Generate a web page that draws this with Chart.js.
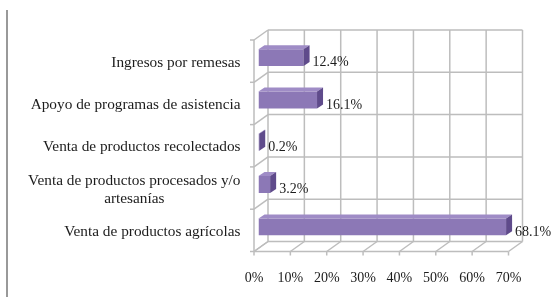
<!DOCTYPE html>
<html>
<head>
<meta charset="utf-8">
<script src="https://cdn.jsdelivr.net/npm/chart.js@4"></script>
<style>
  html, body { margin: 0; padding: 0; background: #fff; }
  #wrap { width: 553px; height: 299px; }
  .preload { font-family: "Liberation Serif"; position: absolute; left: -999px; }
</style>
</head>
<body>
<span class="preload">Venta 0%</span>
<div id="wrap"><canvas id="chart" width="553" height="299"></canvas></div>
<script>
// Data
const categories = [
  "Ingresos por remesas",
  "Apoyo de programas de asistencia",
  "Venta de productos recolectados",
  ["Venta de productos procesados y/o", "artesanías"],
  "Venta de productos agrícolas",
];
const values = [12.4, 16.1, 0.2, 3.2, 68.1];
const valueLabels = ["12.4%", "16.1%", "0.2%", "3.2%", "68.1%"];
const xMax = 70;
const xStep = 10;

// 3D look (Excel style): offsets of the front / back planes from the bar plane
const FRONT = { dx: -4.5, dy: 3.5 };
const BACK = { dx: 9.5, dy: -6.5 };
const DEPTH = { dx: 6, dy: -4 };
const SERIF = '"Liberation Serif", "Times New Roman", serif';
const TEXT = "#1c1c1c";

const frame3d = {
  id: "frame3d",
  beforeDatasetsDraw(chart) {
    const { ctx, chartArea } = chart;
    const { left, right, top, bottom } = chartArea;
    const xs = chart.scales.x;
    const n = categories.length;
    const band = (bottom - top) / n;
    ctx.save();
    ctx.strokeStyle = "#bdbdbd";
    ctx.lineWidth = 1.5;
    const line = (x1, y1, x2, y2) => {
      ctx.beginPath();
      ctx.moveTo(x1, y1);
      ctx.lineTo(x2, y2);
      ctx.stroke();
    };
    // back wall
    for (let v = 0; v <= xMax; v += xStep) {
      const x = xs.getPixelForValue(v);
      line(x + BACK.dx, top + BACK.dy, x + BACK.dx, bottom + BACK.dy);
    }
    for (let i = 0; i <= n; i++) {
      const y = top + i * band;
      line(left + BACK.dx, y + BACK.dy, right + BACK.dx, y + BACK.dy);
    }
    // floor
    line(left + FRONT.dx, bottom + FRONT.dy, right + FRONT.dx, bottom + FRONT.dy);
    for (let v = 0; v <= xMax; v += xStep) {
      const x = xs.getPixelForValue(v);
      line(x + FRONT.dx, bottom + FRONT.dy, x + BACK.dx, bottom + BACK.dy);
      line(x + FRONT.dx, bottom + FRONT.dy, x + FRONT.dx, bottom + FRONT.dy + 4);
    }
    // left wall
    line(left + FRONT.dx, top + FRONT.dy, left + FRONT.dx, bottom + FRONT.dy);
    for (let i = 0; i <= n; i++) {
      const y = top + i * band;
      line(left + FRONT.dx, y + FRONT.dy, left + BACK.dx, y + BACK.dy);
      line(left + FRONT.dx - 4, y + FRONT.dy, left + FRONT.dx, y + FRONT.dy);
    }
    ctx.restore();
  },
  afterDatasetsDraw(chart) {
    const { ctx } = chart;
    const meta = chart.getDatasetMeta(0);
    ctx.save();
    meta.data.forEach((bar, i) => {
      const h = bar.height;
      const yt = bar.y - h / 2;
      const yb = bar.y + h / 2;
      // top face
      ctx.fillStyle = "#9f8cc6";
      ctx.beginPath();
      ctx.moveTo(bar.base, yt);
      ctx.lineTo(bar.base + DEPTH.dx, yt + DEPTH.dy);
      ctx.lineTo(bar.x + DEPTH.dx, yt + DEPTH.dy);
      ctx.lineTo(bar.x, yt);
      ctx.closePath();
      ctx.fill();
      // side face
      ctx.fillStyle = "#5f4b8b";
      ctx.beginPath();
      ctx.moveTo(bar.x, yt);
      ctx.lineTo(bar.x + DEPTH.dx, yt + DEPTH.dy);
      ctx.lineTo(bar.x + DEPTH.dx, yb + DEPTH.dy);
      ctx.lineTo(bar.x, yb);
      ctx.closePath();
      ctx.fill();
      // value label
      ctx.fillStyle = TEXT;
      ctx.font = "14px " + SERIF;
      ctx.textAlign = "left";
      ctx.textBaseline = "middle";
      ctx.fillText(valueLabels[i], bar.x + DEPTH.dx + 3, bar.y + 5);
    });
    ctx.restore();
  },
  afterDraw(chart) {
    const { ctx, chartArea } = chart;
    const ys = chart.scales.y;
    ctx.save();
    // thin page rule at the left
    ctx.strokeStyle = "#777";
    ctx.lineWidth = 1.5;
    ctx.beginPath();
    ctx.moveTo(7, 10);
    ctx.lineTo(7, 297);
    ctx.stroke();
    // category labels: block right-aligned, lines centred within it
    ctx.fillStyle = TEXT;
    ctx.font = "15.3px " + SERIF;
    ctx.textBaseline = "middle";
    ctx.textAlign = "center";
    const rightEdge = chartArea.left - 18;
    const lineH = 18;
    categories.forEach((lab, i) => {
      const lines = Array.isArray(lab) ? lab : [lab];
      const w = Math.max(...lines.map((l) => ctx.measureText(l).width));
      const cx = rightEdge - w / 2;
      const cy = ys.getPixelForValue(i) + 5;
      lines.forEach((l, k) => {
        ctx.fillText(l, cx, cy + (k - (lines.length - 1) / 2) * lineH);
      });
    });
    ctx.restore();
  },
};

function drawChart() {
  new Chart(document.getElementById("chart"), {
    type: "bar",
    data: {
      labels: categories,
      datasets: [
        {
          data: values,
          backgroundColor: "#8c78b6",
          barPercentage: 0.4,
          categoryPercentage: 1,
        },
      ],
    },
    options: {
      indexAxis: "y",
      responsive: false,
      animation: false,
      layout: { padding: { left: 0, right: 40, top: 36.5, bottom: 0 } },
      plugins: { legend: { display: false }, tooltip: { enabled: false } },
      scales: {
        x: {
          min: 0,
          max: xMax,
          ticks: {
            stepSize: xStep,
            callback: (v) => v + "%",
            font: { family: SERIF, size: 14 },
            color: TEXT,
            padding: 22,
            labelOffset: FRONT.dx,
            maxRotation: 0,
          },
          grid: { display: false, drawTicks: false },
          border: { display: false },
          afterFit: (s) => { s.height = 51; },
        },
        y: {
          ticks: { display: false },
          grid: { display: false, drawTicks: false },
          border: { display: false },
          afterFit: (s) => { s.width = 258.5; },
        },
      },
    },
    plugins: [frame3d],
  });
}

Promise.all([
  document.fonts.load('15px "Liberation Serif"'),
  document.fonts.load('14px "Liberation Serif"'),
]).then(drawChart, drawChart);
</script>
</body>
</html>
